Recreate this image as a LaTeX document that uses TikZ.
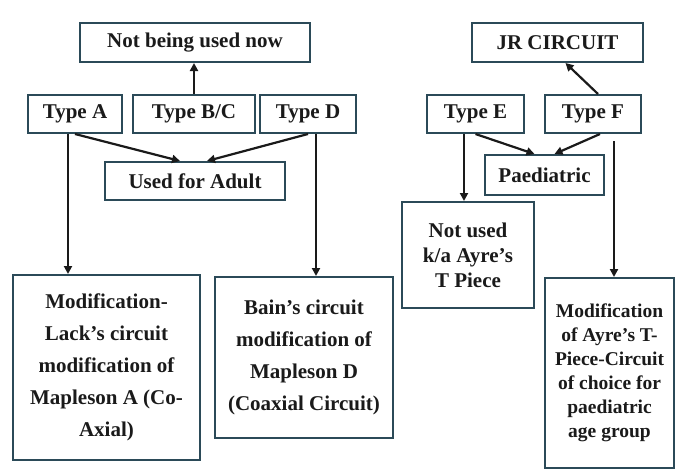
\documentclass[tikz,border=0pt]{standalone}
\usepackage{fontspec}
\setmainfont{Liberation Serif}
\usetikzlibrary{arrows.meta,calc}
\definecolor{boxc}{HTML}{2B4A58}
\definecolor{inkc}{HTML}{1A1A1A}
\begin{document}
\begin{tikzpicture}[x=1pt,y=-1pt,
  box/.style={draw=boxc,line width=2pt,fill=white,inner sep=0pt,align=center,
    font=\fontsize{21}{32}\selectfont\bfseries,text=inkc},
  arr/.style={draw=inkc,line width=2.2pt,-{Triangle[length=8pt,width=8pt]}},
  ln/.style={draw=inkc,line width=2.2pt}]
\useasboundingbox (0,0) rectangle (682,474);
\fill[white] (0,0) rectangle (682,474);
% left group
\node[box,minimum width=230pt,minimum height=39pt] (nb) at (195,42.5) {Not being used now};
\node[box,minimum width=94pt,minimum height=38pt] (ta) at (75,114) {Type A};
\node[box,minimum width=122pt,minimum height=38pt] (tbc) at (194,114) {Type B/C};
\node[box,minimum width=96pt,minimum height=38pt] (td) at (308,114) {Type D};
\node[box,minimum width=180pt,minimum height=38pt] (adult) at (195,181) {Used for Adult};
\node[box,minimum width=187pt,minimum height=185pt] (ma) at (106.5,367.5)
  {Modification-\\Lack's circuit\\modification of\\Mapleson A (Co-\\Axial)};
\node[box,minimum width=178pt,minimum height=161pt] (mb) at (304,357.5)
  {Bain's circuit\\modification of\\Mapleson D\\(Coaxial Circuit)};
% right group
\node[box,minimum width=171pt,minimum height=39pt] (jr) at (557.5,42.5) {JR CIRCUIT};
\node[box,minimum width=97pt,minimum height=38pt] (te) at (475.5,114) {Type E};
\node[box,minimum width=96pt,minimum height=38pt] (tf) at (593,114) {Type F};
\node[box,minimum width=119pt,minimum height=40pt] (paed) at (544.5,175) {Paediatric};
\node[box,minimum width=132pt,minimum height=106pt,font=\fontsize{21}{25}\selectfont\bfseries] (nu) at (468,255)
  {Not used\\k/a Ayre's\\T Piece};
\node[box,minimum width=129pt,minimum height=190pt,font=\fontsize{19.5}{24}\selectfont\bfseries] (mf) at (609.5,373)
  {Modification\\of Ayre's T-\\Piece-Circuit\\of choice for\\paediatric\\age group};
% connectors left
\draw[arr] (tbc.north) -- (tbc.north |- nb.south);
\draw[arr] (ta.south) -- ([xshift=-15pt]adult.north);
\draw[arr] (td.south) -- ([xshift=12pt]adult.north);
\draw[arr] ([xshift=-7pt]ta.south) -- ([xshift=-7pt]ta.south |- ma.north);
\draw[arr] ([xshift=8pt]td.south) -- ([xshift=8pt]td.south |- mb.north);
% connectors right
\draw[arr] ([xshift=5pt]tf.north) -- ([xshift=8pt]jr.south);
\draw[arr] (te.south) -- ([xshift=-10pt]paed.north);
\draw[arr] ([xshift=7pt]tf.south) -- ([xshift=10pt]paed.north);
\draw[arr] ([xshift=-11.5pt]te.south) -- ([xshift=-11.5pt]te.south |- nu.north);
\coordinate (fs) at ([xshift=21pt,yshift=-7pt]tf.south);
\draw[arr] (fs) -- (fs |- mf.north);
\end{tikzpicture}
\end{document}
